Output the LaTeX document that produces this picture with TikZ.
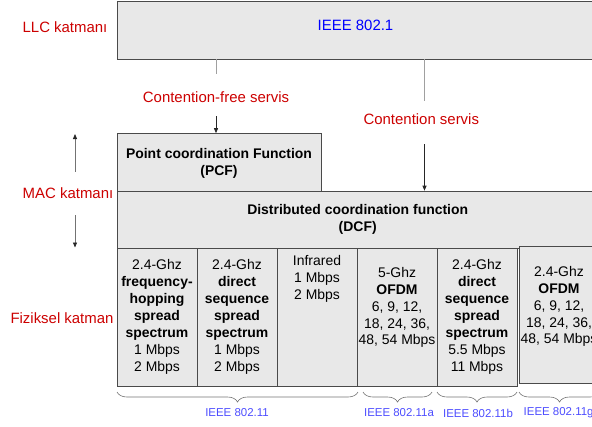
\documentclass[tikz,border=0pt]{standalone}
\usepackage{fontspec}
\setmainfont{Liberation Sans}
\usetikzlibrary{decorations.pathreplacing,arrows.meta}
\definecolor{layerred}{HTML}{CC0000}
\definecolor{ieeeblue}{HTML}{0000FF}
\definecolor{stdblue}{HTML}{4D4DFF}
\definecolor{boxfill}{HTML}{E8E8E8}
\definecolor{boxline}{HTML}{4A4A4A}
\definecolor{lightline}{HTML}{A0A0A0}
\begin{document}
\begin{tikzpicture}[x=1bp,y=-1bp,
  box/.style={draw=boxline, fill=boxfill, line width=0.8bp, inner sep=0, anchor=north west},
  layerlbl/.style={text=layerred, font=\fontsize{15}{18}\selectfont, inner sep=0},
  celltxt/.style={align=center, font=\fontsize{14}{17}\selectfont, inner sep=0},
  stdlbl/.style={text=stdblue, font=\fontsize{11.5}{13}\selectfont, inner sep=0},
  gline/.style={draw=lightline, line width=0.8bp},
  arr/.style={draw=black!85, line width=0.8bp, -{Triangle[length=5bp,width=4bp]}},
  rangearr/.style={draw=black!55, line width=0.8bp, -{Triangle[length=5bp,width=4bp,color=black!85,fill=black!85]}},
  stdbrace/.style={draw=black!55, line width=0.6bp, decorate, decoration={brace, mirror, amplitude=10bp}}]
\useasboundingbox (0,0) rectangle (592,426);
\clip (0,0) rectangle (592,426);

% boxes
\node[box, minimum width=490bp, minimum height=57.5bp] (llc) at (117,1) {};
\node[box, minimum width=204bp, minimum height=57.5bp] (pcf) at (117,133.2) {};
\node[box, minimum width=490bp, minimum height=57.5bp] (dcf) at (117,190.7) {};
\node[box, minimum width=80bp, minimum height=137.3bp] (c1) at (117,248.2) {};
\node[box, minimum width=80bp, minimum height=137.3bp] (c2) at (197,248.2) {};
\node[box, minimum width=80bp, minimum height=137.3bp] (c3) at (277,248.2) {};
\node[box, minimum width=80bp, minimum height=137.3bp] (c4) at (357,248.2) {};
\node[box, minimum width=80bp, minimum height=137.3bp] (c5) at (437,248.2) {};
\node[box, minimum width=80bp, minimum height=137.3bp] (c6) at (519,246) {};

% box texts
\node[text=ieeeblue, font=\fontsize{15}{18}\selectfont] (llct) at (355.5,25.7) {IEEE 802.1};
\node[celltxt, font=\bfseries\fontsize{14}{17}\selectfont] (pcft) at (219,163) {Point coordination Function\\(PCF)};
\node[celltxt, font=\bfseries\fontsize{14}{17}\selectfont] (dcft) at (357.7,219.7) {Distributed coordination function\\(DCF)};
\node[celltxt] (t1) at (157,317) {2.4-Ghz\\\textbf{frequency-}\\\textbf{hopping}\\\textbf{spread}\\\textbf{spectrum}\\1 Mbps\\2 Mbps};
\node[celltxt] (t2) at (237,317) {2.4-Ghz\\\textbf{direct}\\\textbf{sequence}\\\textbf{spread}\\\textbf{spectrum}\\1 Mbps\\2 Mbps};
\node[celltxt] (t3) at (317,279) {Infrared\\1 Mbps\\2 Mbps};
\node[celltxt] (t4) at (397,307.5) {5-Ghz\\\textbf{OFDM}\\6, 9, 12,\\18, 24, 36,\\48, 54 Mbps};
\node[celltxt] (t5) at (477,317) {2.4-Ghz\\\textbf{direct}\\\textbf{sequence}\\\textbf{spread}\\\textbf{spectrum}\\5.5 Mbps\\11 Mbps};
\node[celltxt] (t6) at (559,306.5) {2.4-Ghz\\\textbf{OFDM}\\6, 9, 12,\\18, 24, 36,\\48, 54 Mbps};

% layer labels
\node[layerlbl] (llcl) at (65,27) {LLC katmanı};
\node[layerlbl] (macl) at (68,193) {MAC katmanı};
\node[layerlbl] (phyl) at (62,318) {Fiziksel katman};
\node[layerlbl] (cfree) at (216,97) {Contention-free servis};
\node[layerlbl] (cserv) at (421.3,119) {Contention servis};

% connectors
\coordinate (l1end) at (216,74);
\coordinate (a1start) at (216,116);
\coordinate (l2end) at (424.5,101);
\coordinate (a2start) at (424.5,144);
\draw[gline] (llc.south -| l1end) -- (l1end);
\draw[arr] (a1start) -- (pcf.north -| a1start);
\draw[gline] (llc.south -| l2end) -- (l2end);
\draw[arr] (a2start) -- (dcf.north -| a2start);

% MAC range arrows
\coordinate (mupstart) at (75,171.5);
\coordinate (mupend) at (75,134);
\coordinate (mdnstart) at (75,215);
\coordinate (mdnend) at (75,247.5);
\draw[rangearr] (mupstart) -- (mupend);
\draw[rangearr] (mdnstart) -- (mdnend);

% braces
\draw[stdbrace] (117,392) -- (358,392);
\draw[stdbrace] (363,392) -- (432,392);
\draw[stdbrace] (437,392) -- (517,392);
\draw[stdbrace] (519,392) -- (600,392);

% standard labels
\node[stdlbl] (s1) at (237,413) {IEEE 802.11};
\node[stdlbl] (s2) at (399,413) {IEEE 802.11a};
\node[stdlbl] (s3) at (478,413) {IEEE 802.11b};
\node[stdlbl, anchor=west] (s4) at (523.5,413) {IEEE 802.11g};
\end{tikzpicture}
\end{document}
